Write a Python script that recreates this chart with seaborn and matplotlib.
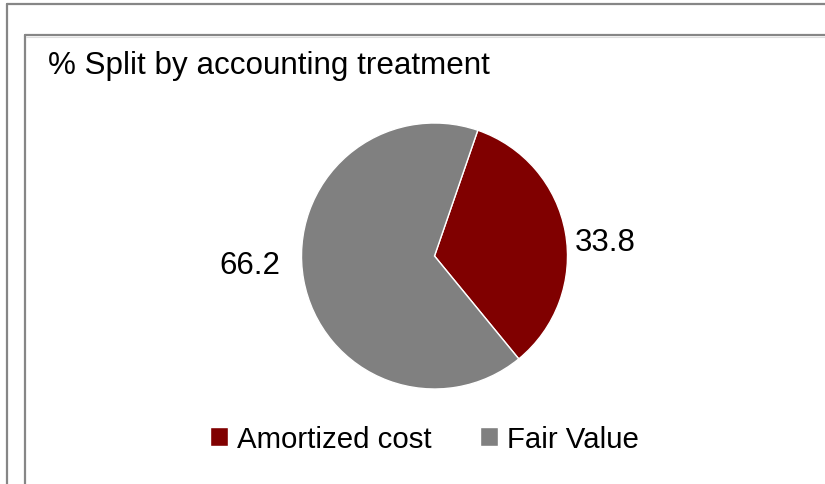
import matplotlib
matplotlib.use("Agg")
import matplotlib.pyplot as plt
from matplotlib.lines import Line2D
import seaborn as sns

# Split of the portfolio by accounting treatment (%)
categories = ["Amortized cost", "Fair Value"]
shares = [33.8, 66.2]
colors = ["#800000", "#808080"]
title = "% Split by accounting treatment"

sns.set_theme(style="white")
plt.rcParams["font.family"] = ["Liberation Sans", "DejaVu Sans"]
plt.rcParams["text.color"] = "black"

W, H = 825, 485
fig = plt.figure(figsize=(W / 100, H / 100), dpi=100)
fig.patch.set_facecolor("white")


def fx(px):
    return px / W


def fy(py):
    return 1 - py / H


# outer and inner frame lines (open on the right and bottom)
frame = "#868686"
for x0, y0 in [(7, 5), (25, 36)]:
    fig.add_artist(Line2D([fx(x0), fx(x0)], [fy(y0), 0], color=frame, lw=1.6,
                          transform=fig.transFigure))
    fig.add_artist(Line2D([fx(x0), 1], [fy(y0), fy(y0)], color=frame, lw=1.6,
                          transform=fig.transFigure))
fig.add_artist(Line2D([fx(26), 1], [fy(37.5), fy(37.5)], color="#dedede", lw=0.8,
                      transform=fig.transFigure))

# pie axes
cx, cy, r = 434.5, 257, 133
ax = fig.add_axes([fx(cx - r), fy(cy + r), 2 * r / W, 2 * r / H])
wedges, _ = ax.pie(shares, colors=colors, startangle=71, counterclock=False,
                   radius=1, wedgeprops=dict(edgecolor="white", linewidth=1))
ax.set_xlim(-1, 1)
ax.set_ylim(-1, 1)
ax.set_aspect("equal")
ax.axis("off")

# value labels beside the pie
label_pos = [(1.28, 0.105), (-1.385, -0.07)]
for val, (lx, ly) in zip(shares, label_pos):
    ax.text(lx, ly, f"{val:.1f}", ha="center", va="center", fontsize=22.5,
            color="black", clip_on=False)

fig.text(fx(48), fy(74), title, ha="left", va="baseline", fontsize=22.6,
         color="black")

fig.legend(wedges, categories, loc="center", bbox_to_anchor=(fx(424.5), fy(440)),
           ncol=2, frameon=False, fontsize=21.2, handlelength=0.62,
           handleheight=0.62, handletextpad=0.3, columnspacing=1.65,
           borderpad=0, borderaxespad=0, labelcolor="black")

fig.savefig("out.png", dpi=100, facecolor="white")
